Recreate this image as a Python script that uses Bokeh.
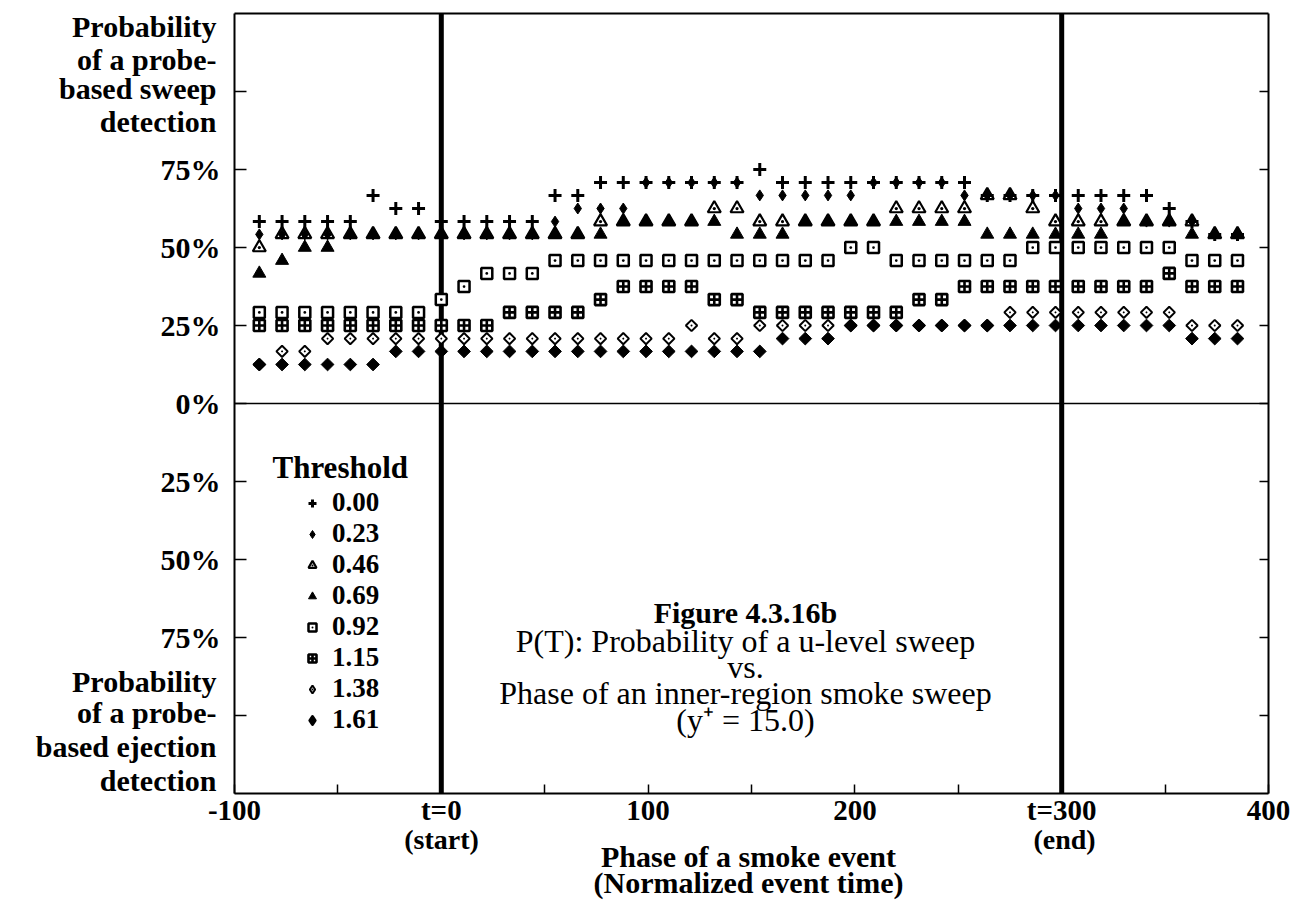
from bokeh.plotting import figure
from bokeh.models import Label, Legend, LegendItem, LinearAxis, FixedTicker, Range1d
from bokeh.embed import file_html
from bokeh.resources import INLINE
import math

# ---------------- data (probability in %) ----------------
phase = [-88, -77, -66, -55, -44, -33, -22, -11, 0, 11, 22, 33, 44, 55, 66, 77, 88, 99,
         110, 121, 132, 143, 154, 165, 176, 187, 198, 209, 220, 231, 242, 253, 264, 275,
         286, 297, 308, 319, 330, 341, 352, 363, 374, 385]

thresholds = ["0.00", "0.23", "0.46", "0.69", "0.92", "1.15", "1.38", "1.61"]

p_000 = [58.3, 58.3, 58.3, 58.3, 58.3, 66.7, 62.5, 62.5, 58.3, 58.3, 58.3, 58.3, 58.3,
         66.7, 66.7, 70.8, 70.8, 70.8, 70.8, 70.8, 70.8, 70.8, 75.0, 70.8, 70.8, 70.8,
         70.8, 70.8, 70.8, 70.8, 70.8, 70.8, 66.7, 66.7, 66.7, 66.7, 66.7, 66.7, 66.7,
         66.7, 62.5, 58.3, 54.2, 54.2]
p_023 = [54.2, 54.2, 54.2, 54.2, 54.2, 54.2, 54.2, 54.2, 54.2, 54.2, 54.2, 54.2, 54.2,
         58.3, 62.5, 62.5, 62.5, 70.8, 70.8, 70.8, 70.8, 70.8, 66.7, 66.7, 66.7, 66.7,
         66.7, 70.8, 70.8, 70.8, 70.8, 66.7, 66.7, 66.7, 66.7, 66.7, 62.5, 62.5, 62.5,
         58.3, 58.3, 58.3, 54.2, 54.2]
p_046 = [50.0, 54.2, 54.2, 54.2, 54.2, 54.2, 54.2, 54.2, 54.2, 54.2, 54.2, 54.2, 54.2,
         54.2, 54.2, 58.3, 58.3, 58.3, 58.3, 58.3, 62.5, 62.5, 58.3, 58.3, 58.3, 58.3,
         58.3, 58.3, 62.5, 62.5, 62.5, 62.5, 66.7, 66.7, 62.5, 58.3, 58.3, 58.3, 58.3,
         58.3, 58.3, 58.3, 54.2, 54.2]
p_069 = [41.7, 45.8, 50.0, 50.0, 54.2, 54.2, 54.2, 54.2, 54.2, 54.2, 54.2, 54.2, 54.2,
         54.2, 54.2, 54.2, 58.3, 58.3, 58.3, 58.3, 58.3, 54.2, 54.2, 54.2, 58.3, 58.3,
         58.3, 58.3, 58.3, 58.3, 58.3, 58.3, 54.2, 54.2, 54.2, 54.2, 54.2, 54.2, 58.3,
         58.3, 58.3, 54.2, 54.2, 54.2]
p_092 = [29.2, 29.2, 29.2, 29.2, 29.2, 29.2, 29.2, 29.2, 33.3, 37.5, 41.7, 41.7, 41.7,
         45.8, 45.8, 45.8, 45.8, 45.8, 45.8, 45.8, 45.8, 45.8, 45.8, 45.8, 45.8, 45.8,
         50.0, 50.0, 45.8, 45.8, 45.8, 45.8, 45.8, 45.8, 50.0, 50.0, 50.0, 50.0, 50.0,
         50.0, 50.0, 45.8, 45.8, 45.8]
p_115 = [25.0, 25.0, 25.0, 25.0, 25.0, 25.0, 25.0, 25.0, 25.0, 25.0, 25.0, 29.2, 29.2,
         29.2, 29.2, 33.3, 37.5, 37.5, 37.5, 37.5, 33.3, 33.3, 29.2, 29.2, 29.2, 29.2,
         29.2, 29.2, 29.2, 33.3, 33.3, 37.5, 37.5, 37.5, 37.5, 37.5, 37.5, 37.5, 37.5,
         37.5, 41.7, 37.5, 37.5, 37.5]
p_138 = [12.5, 16.7, 16.7, 20.8, 20.8, 20.8, 20.8, 20.8, 20.8, 20.8, 20.8, 20.8, 20.8,
         20.8, 20.8, 20.8, 20.8, 20.8, 20.8, 25.0, 20.8, 20.8, 25.0, 25.0, 25.0, 25.0,
         25.0, 25.0, 25.0, 25.0, 25.0, 25.0, 25.0, 29.2, 29.2, 29.2, 29.2, 29.2, 29.2,
         29.2, 29.2, 25.0, 25.0, 25.0]
p_161 = [12.5, 12.5, 12.5, 12.5, 12.5, 12.5, 16.7, 16.7, 16.7, 16.7, 16.7, 16.7, 16.7,
         16.7, 16.7, 16.7, 16.7, 16.7, 16.7, 16.7, 16.7, 16.7, 16.7, 20.8, 20.8, 20.8,
         25.0, 25.0, 25.0, 25.0, 25.0, 25.0, 25.0, 25.0, 25.0, 25.0, 25.0, 25.0, 25.0,
         25.0, 25.0, 20.8, 20.8, 20.8]

event_bounds = [0, 300]          # t=0 (start) and t=300 (end)
y_ticks = [-100, -75, -50, -25, 0, 25, 50, 75, 100]
y_tick_labels = ["", "75%", "50%", "25%", "0%", "25%", "50%", "75%", ""]
x_ticks = [-100, -50, 0, 50, 100, 150, 200, 250, 300, 350, 400]
x_tick_labels = ["-100", "", "t=0", "", "100", "", "200", "", "t=300", "", "400"]

# ---------------- layout: pixel box of the axes inside the page ----------------
W, H = 1299, 904
FL, FR, FT, FB = 234, 1268, 13, 793          # axes box, pixels from top-left
X0, X1, Y0, Y1 = -100, 400, -125, 125        # axes box, data units
sx = (FR - FL) / (X1 - X0)
sy = (FB - FT) / (Y1 - Y0)


def dx(X):
    return X0 + (X - FL) / sx


def dy(Y):
    return Y1 - (Y - FT) / sy


FONT = "Liberation Serif"

p = figure(width=W, height=H, title=None,
           x_range=Range1d(dx(0), dx(W)), y_range=Range1d(dy(H), dy(0)),
           x_axis_location=None, y_axis_location=None,
           output_backend="svg", toolbar_location=None,
           min_border_left=0, min_border_right=0, min_border_top=0, min_border_bottom=0)
p.grid.visible = False
p.outline_line_color = None
p.background_fill_color = "white"
p.border_fill_color = "white"


def style_axis(ax, size="29px"):
    ax.minor_tick_line_color = None
    ax.axis_line_width = 2
    ax.axis_line_color = "black"
    ax.major_tick_line_width = 1.5
    ax.major_tick_out = 0
    ax.major_label_text_font = FONT
    ax.major_label_text_font_style = "bold"
    ax.major_label_text_font_size = size
    ax.major_label_text_color = "black"


# bottom axis
xa = LinearAxis(fixed_location=Y0, bounds=(X0, X1), ticker=FixedTicker(ticks=x_ticks),
                major_label_overrides={t: l for t, l in zip(x_ticks, x_tick_labels)})
style_axis(xa)
xa.major_tick_in = 9
xa.major_label_standoff = 0
p.add_layout(xa, "below")

# top border
ta = LinearAxis(fixed_location=Y1, bounds=(X0, X1), ticker=FixedTicker(ticks=[]))
style_axis(ta, "1px")
ta.major_tick_line_color = None
p.add_layout(ta, "above")

# left axis
ya = LinearAxis(fixed_location=X0, bounds=(Y0, Y1), ticker=FixedTicker(ticks=y_ticks),
                major_label_overrides={t: l for t, l in zip(y_ticks, y_tick_labels)})
style_axis(ya, "30px")
ya.major_tick_in = 12
ya.major_label_standoff = 14
p.add_layout(ya, "left")

# right axis (ticks only)
ra = LinearAxis(fixed_location=X1, bounds=(Y0, Y1), ticker=FixedTicker(ticks=y_ticks),
                major_label_overrides={t: "" for t in y_ticks})
style_axis(ra, "1px")
ra.major_tick_in = 9
ra.major_label_standoff = 0
p.add_layout(ra, "right")

# event boundaries and zero line
p.segment(x0=event_bounds, y0=[Y0] * len(event_bounds), x1=event_bounds,
          y1=[Y1] * len(event_bounds), line_color="black", line_width=5)
p.segment(x0=[X0], y0=[0], x1=[X1], y1=[0], line_color="black", line_width=1.5)

# series
r0 = p.scatter(phase, p_000, marker="cross", size=13, line_color="black", line_width=3)
r1 = p.scatter(phase, p_023, marker="diamond", size=11, fill_color="black",
               line_color="black", line_width=1)
r2 = p.scatter(phase, p_046, marker="triangle_dot", size=13, fill_alpha=0,
               line_color="black", line_width=2.2)
r3 = p.scatter(phase, p_069, marker="triangle", size=13, fill_color="black",
               line_color="black", line_width=1)
r4 = p.scatter(phase, p_092, marker="square_dot", size=11, fill_color="white",
               line_color="black", line_width=2.5)
r5 = p.scatter(phase, p_115, marker="square_cross", size=11, fill_color="white",
               line_color="black", line_width=2.6)
r6 = p.scatter(phase, p_138, marker="square_dot", size=8, angle=math.pi / 4,
               fill_color="white", line_color="black", line_width=2)
r7 = p.scatter(phase, p_161, marker="square", size=9, angle=math.pi / 4,
               fill_color="black", line_color="black", line_width=1)

# legend keys for the two rotated-square series (legend keys are drawn unrotated),
# same data, hidden in the plot area
k6 = p.scatter(phase, p_138, marker="diamond_dot", size=12, fill_color="white",
               line_color="black", line_width=2, visible=False)
k7 = p.scatter(phase, p_161, marker="diamond", size=12, fill_color="black",
               line_color="black", line_width=3, line_join="round", visible=False)
keys = [r0, r1, r2, r3, r4, r5, k6, k7]

legend = Legend(items=[LegendItem(label=t, renderers=[r]) for t, r in zip(thresholds, keys)],
                location=(302, H - 735), orientation="vertical",
                padding=0, spacing=0, margin=0, border_line_alpha=0, background_fill_alpha=0,
                label_text_font=FONT, label_text_font_style="bold", label_text_font_size="27px",
                label_text_color="black", inactive_fill_alpha=0,
                glyph_width=20, glyph_height=20, label_standoff=10, label_height=31)
p.add_layout(legend)


def lab(X, Y, text, align="center", bold=True, size="29px"):
    # Y is the vertical middle of the text line, in page pixels
    p.add_layout(Label(x=dx(X), y=dy(Y), text=text, text_align=align,
                       text_baseline="middle",
                       text_font=FONT, text_font_style="bold" if bold else "normal",
                       text_font_size=size, text_color="black"))


lab(272, 467, "Threshold", align="left", size="31px")

# y-axis titles
for Y, t in zip([26, 59, 88, 121], ["Probability", "of a probe-", "based sweep", "detection"]):
    lab(216, Y, t, align="right", size="30px")
for Y, t in zip([681, 712, 746, 780], ["Probability", "of a probe-", "based ejection", "detection"]):
    lab(216, Y, t, align="right", size="30px")

# x-axis sub labels and title
lab(441, 839, "(start)", size="28px")
lab(1064, 839, "(end)", size="28px")
lab(748, 856, "Phase of a smoke event", size="30px")
lab(748, 882, "(Normalized event time)", size="30px")

# figure caption
lab(745, 612, "Figure 4.3.16b", size="30px")
lab(745, 640, "P(T): Probability of a u-level sweep", bold=False, size="32px")
lab(745, 666, "vs.", bold=False, size="32px")
lab(745, 692, "Phase of an inner-region smoke sweep", bold=False, size="32px")
lab(745, 719, "(y\u207a = 15.0)", bold=False, size="32px")

open("out.html", "w").write(file_html(p, INLINE))
